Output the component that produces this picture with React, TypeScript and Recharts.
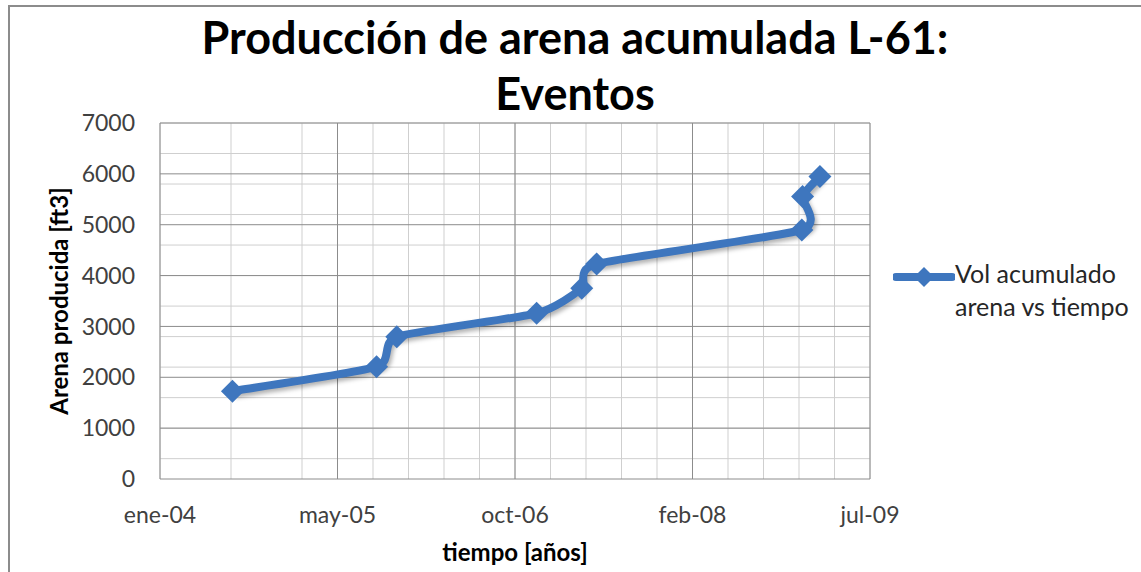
import React from 'react';
import { LineChart, Line, XAxis, YAxis, CartesianGrid, Legend, Label } from 'recharts';

// fechas de cada evento y volumen acumulado de arena [ft3]
const fechas = ['2004-08-05', '2005-09-15', '2005-11-11', '2006-12-10', '2007-04-16', '2007-05-28', '2008-12-26', '2008-12-28', '2009-02-15'];
const arena = [1727, 2206, 2797, 3258, 3750, 4229, 4898, 5554, 5948];

const xTicks = [38000, 38500, 39000, 39500, 40000];
const xTickLabels = ['ene-04', 'may-05', 'oct-06', 'feb-08', 'jul-09'];
const yTicks = [0, 1000, 2000, 3000, 4000, 5000, 6000, 7000];

const serieNombre = 'Vol acumulado arena vs tiempo';

// fecha -> numero de serie de Excel
const toSerial = (s: string) => Date.parse(s) / 864e5 + 25569;

const data = fechas.map((f, i) => ({ t: toSerial(f), vol: arena[i] }));

const minorX = Array.from({ length: 21 }, (_, i) => 38000 + i * 100);
const minorY = Array.from({ length: 36 }, (_, i) => i * 200);

const AZUL = '#3e76be';
const FONT = 'Lato, "Open Sans", sans-serif';

// suavizado tipo Excel (Catmull-Rom en bezier, algo mas tenso)
const excelSmooth = (ctx: any) => {
    let pts: [number, number][] = [];
    const k = 10;
    return {
        areaStart() {},
        areaEnd() {},
        lineStart() { pts = []; },
        point(x: number, y: number) { pts.push([x, y]); },
        lineEnd() {
            pts.forEach(([x, y], i) => {
                if (i === 0) { ctx.moveTo(x, y); return; }
                const p0 = pts[Math.max(i - 2, 0)];
                const p1 = pts[i - 1];
                const p3 = pts[Math.min(i + 1, pts.length - 1)];
                ctx.bezierCurveTo(
                    p1[0] + (x - p0[0]) / k, p1[1] + (y - p0[1]) / k,
                    x - (p3[0] - p1[0]) / k, y - (p3[1] - p1[1]) / k,
                    x, y
                );
            });
        },
    };
};

const Diamond = (props: any) => {
    const { cx, cy, index } = props;
    const r = 11.5;
    return <path key={index} d={`M${cx},${cy - r}L${cx + r},${cy}L${cx},${cy + r}L${cx - r},${cy}Z`} fill={AZUL} />;
};

const LegendBox = () => (
    <div style={{ display: 'flex', alignItems: 'flex-start', fontFamily: FONT, fontSize: 25, lineHeight: '33px', color: '#262626' }}>
        <svg width={62} height={33}>
            <line x1={3} y1={20} x2={59} y2={20} stroke={AZUL} strokeWidth={8} strokeLinecap="round" />
            <path d="M31,10L41,20L31,30L21,20Z" fill={AZUL} />
        </svg>
        <div style={{ width: 185 }}>{serieNombre}</div>
    </div>
);

const App: React.FC = () => {
    return (
        <div style={{ position: 'absolute', left: 0, top: 0, width: 1141, height: 572, background: '#fff', overflow: 'hidden' }}>
            <style>{`.recharts-line { filter: drop-shadow(2px 3px 2px rgba(0,0,0,0.3)); }`}</style>
            <div style={{ position: 'absolute', left: 8, top: 5, width: 1133, height: 567, borderTop: '2px solid #8c8c8c', borderLeft: '2px solid #8c8c8c', boxSizing: 'border-box' }} />
            <div style={{ position: 'absolute', left: 0, top: 9, width: 1150, textAlign: 'center', fontFamily: FONT, fontWeight: 700, fontSize: 45, lineHeight: '56px', color: '#000' }}>
                Producción de arena acumulada L-61:<br />Eventos
            </div>
            <LineChart width={1141} height={572} data={data} margin={{ top: 123, right: 271, bottom: 0, left: 0 }}>
                <CartesianGrid stroke="#cfcfcf" verticalValues={minorX} horizontalValues={minorY} />
                <CartesianGrid stroke="#8c8c8c" verticalValues={xTicks} horizontalValues={yTicks} />
                <XAxis
                    dataKey="t"
                    type="number"
                    domain={[38000, 40000]}
                    ticks={xTicks}
                    tickFormatter={(v: number, i: number) => xTickLabels[i]}
                    height={93}
                    axisLine={false}
                    tickLine={false}
                    tickMargin={22}
                    tick={{ fill: '#404040', fontSize: 23, fontFamily: FONT }}
                >
                    <Label value="tiempo [años]" position="center" dy={27} style={{ fill: '#000', fontSize: 24, fontWeight: 700, fontFamily: FONT }} />
                </XAxis>
                <YAxis
                    type="number"
                    domain={[0, 7000]}
                    ticks={yTicks}
                    width={160}
                    axisLine={false}
                    tickLine={false}
                    tickMargin={19}
                    tick={{ fill: '#404040', fontSize: 23, fontFamily: FONT }}
                >
                    <Label value="Arena producida [ft3]" angle={-90} position="center" dx={-21} style={{ fill: '#000', fontSize: 24, fontWeight: 700, fontFamily: FONT }} />
                </YAxis>
                <Legend
                    layout="horizontal"
                    verticalAlign="middle"
                    align="center"
                    wrapperStyle={{ left: 893, top: 257, width: 250 }}
                    content={() => <LegendBox />}
                />
                <Line
                    dataKey="vol"
                    name={serieNombre}
                    type={excelSmooth as any}
                    stroke={AZUL}
                    strokeWidth={8}
                    dot={Diamond}
                    activeDot={false}
                    isAnimationActive={false}
                />
            </LineChart>
        </div>
    );
};

export default App;
